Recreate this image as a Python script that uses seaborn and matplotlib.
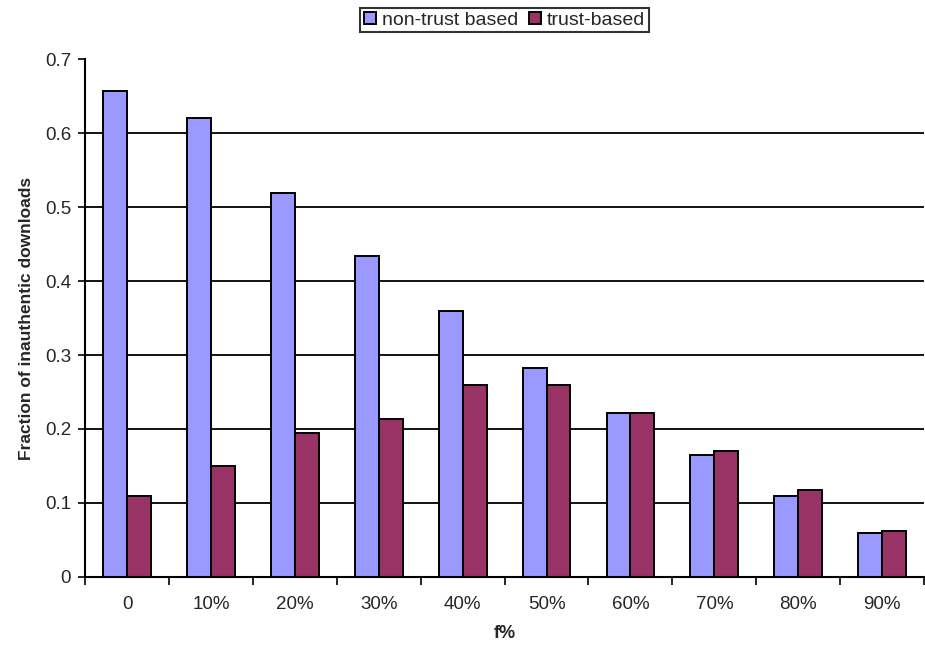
import pandas as pd
import matplotlib.pyplot as plt
import seaborn as sns

# Values
categories = ['0', '10%', '20%', '30%', '40%', '50%', '60%', '70%', '80%', '90%']
non_trust = [0.657, 0.620, 0.519, 0.434, 0.359, 0.282, 0.222, 0.165, 0.109, 0.059]
trust = [0.109, 0.150, 0.195, 0.213, 0.259, 0.259, 0.222, 0.170, 0.118, 0.062]
series = ['non-trust based', 'trust-based']

df = pd.DataFrame({
    'f': categories * 2,
    'value': non_trust + trust,
    'series': [series[0]] * len(categories) + [series[1]] * len(categories),
})

sns.set_style('white')
plt.rcParams['font.family'] = ['Liberation Sans', 'DejaVu Sans']

fig = plt.figure(figsize=(9.25, 6.49), dpi=100)
ax = fig.add_axes([0.092, 0.111, 0.907, 0.798])

sns.barplot(data=df, x='f', y='value', hue='series', order=categories,
            hue_order=series, palette=['#9999FF', '#993366'],
            width=0.57, gap=0, edgecolor='black', linewidth=1.4,
            saturation=1, ax=ax)

ax.set_ylim(0, 0.7)
ax.set_xlim(-0.5, len(categories) - 0.5)
ax.set_yticks([0, 0.1, 0.2, 0.3, 0.4, 0.5, 0.6, 0.7])
ax.set_yticklabels(['0', '0.1', '0.2', '0.3', '0.4', '0.5', '0.6', '0.7'], fontsize=13.5)
for y in [0.1, 0.2, 0.3, 0.4, 0.5, 0.6]:
    ax.axhline(y, color='black', linewidth=1.3, zorder=0)

# boundary ticks between categories, labels centered
ax.set_xticks([i - 0.5 for i in range(len(categories) + 1)])
ax.set_xticklabels([])
ax.set_xticks(range(len(categories)), minor=True)
ax.set_xticklabels(categories, minor=True, fontsize=13.5)
ax.tick_params(axis='x', which='major', direction='out', length=6, width=1.4, bottom=True)
ax.tick_params(axis='x', which='minor', length=0, pad=14)
ax.tick_params(axis='y', direction='out', length=5, width=1.4, left=True, pad=5)

for side in ['top', 'right']:
    ax.spines[side].set_visible(False)
for side in ['left', 'bottom']:
    ax.spines[side].set_color('black')
    ax.spines[side].set_linewidth(1.5)

ax.set_xlabel('f%', fontsize=13, fontweight='bold', labelpad=8)
ax.set_ylabel('Fraction of inauthentic downloads', fontsize=12.5, fontweight='bold', labelpad=8)

leg = ax.legend(loc='upper center', bbox_to_anchor=(0.5, 1.118), ncol=2, frameon=True,
                fontsize=14, fancybox=False, edgecolor='black', handlelength=0.6,
                handleheight=0.6, handletextpad=0.3, columnspacing=0.6,
                borderpad=0.2)
leg.get_frame().set_linewidth(1.5)

plt.savefig('out.png', dpi=100)
